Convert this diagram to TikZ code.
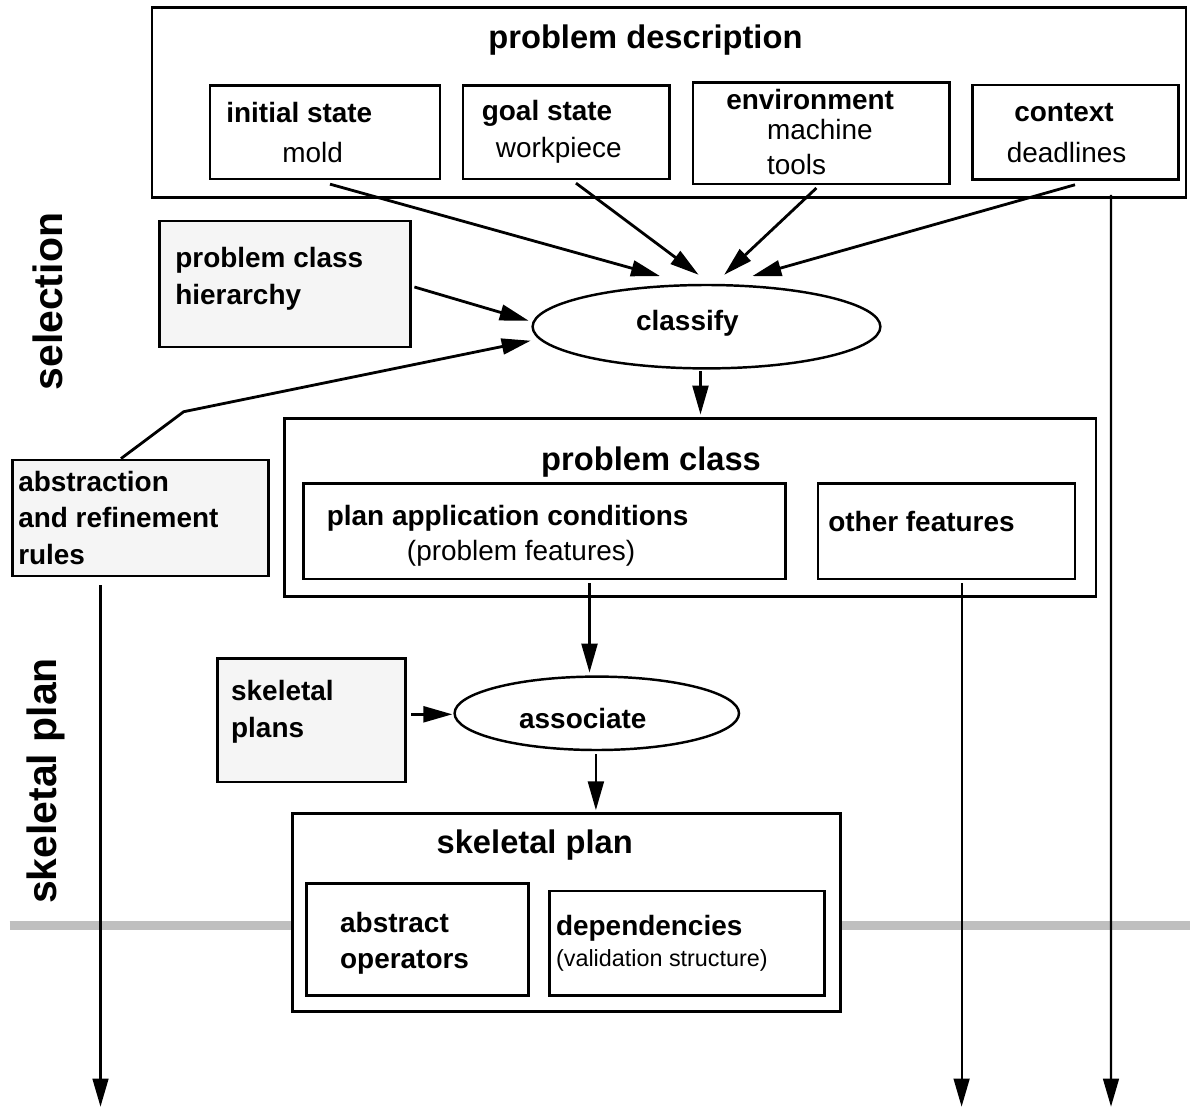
\documentclass[tikz,border=0pt]{standalone}
\usepackage{fontspec}
\setmainfont{Liberation Sans}
\usetikzlibrary{arrows.meta}
\usetikzlibrary{shapes.geometric}
\usetikzlibrary{calc}

\tikzset{
  pbox/.style 2 args={draw, line width=1.6pt, inner sep=0pt,
    minimum width=#1*0.02cm, minimum height=#2*0.02cm},
  store/.style 2 args={pbox={#1}{#2}, fill=black!4},
  task/.style 2 args={draw, ellipse, line width=1.4pt, inner sep=0pt,
    minimum width=#1*0.02cm, minimum height=#2*0.02cm},
  lbl/.style={anchor=west, inner sep=0pt, align=left,
    font=\bfseries\fontsize{15.9}{20.8}\selectfont},
  sub/.style={anchor=west, inner sep=0pt,
    font=\fontsize{15.9}{20.8}\selectfont},
  small/.style={anchor=west, inner sep=0pt,
    font=\fontsize{13.3}{16}\selectfont},
  ttl/.style={anchor=west, inner sep=0pt,
    font=\bfseries\fontsize{18.6}{22}\selectfont},
  side/.style={rotate=90, inner sep=0pt,
    font=\bfseries\fontsize{23.3}{28}\selectfont},
  arr/.style={line width=1.6pt, -{Triangle[length=16.5pt,width=9pt]}},
  flow/.style={line width=1.2pt, -{Triangle[length=16pt,width=9pt]}},
}

\begin{document}
\begin{tikzpicture}[x=0.02cm, y=-0.02cm]
  \useasboundingbox (0,0) rectangle (1190,1108);

  % phase separator
  \draw[line width=5.1pt, black!25] (9.6,925.5) -- (1190,925.5);

  % side labels
  \node[side] (selection) at (47.8,301.7) {selection};
  \node[side] (skelphase) at (46,781) {skeletal plan};

  % problem description
  \node[pbox={1034}{190}] (pd) at (669,102.3) {};
  \node[ttl] (pdtitle) at (488,40) {problem description};
  \node[pbox={230}{93.7}] (init) at (325,132.2) {};
  \node[lbl] (initl) at (226,113) {initial state};
  \node[sub] (initv) at (282,153) {mold};
  \node[pbox={206.6}{93.7}] (goal) at (566.3,132.2) {};
  \node[lbl] (goall) at (481.5,113) {goal state};
  \node[sub] (goalv) at (495.6,150) {workpiece};
  \node[pbox={256.3}{101.3}] (env) at (821.2,133.3) {};
  \node[lbl] (envl) at (726,100) {environment};
  \node[sub] (envv) at (766.7,130) {machine};
  \node[sub] (envw) at (766.7,165) {tools};
  \node[pbox={206.2}{94.3}] (ctx) at (1075.7,132.2) {};
  \node[lbl] (ctxl) at (1014,113) {context};
  \node[sub] (ctxv) at (1006.5,153) {deadlines};

  % selection
  \node[store={251}{126}] (pch) at (285.1,284) {};
  \node[lbl] (pchl) at (175,279) {problem class\\hierarchy};
  \node[task={347.8}{83.4}] (classify) at (706.5,326.7) {};
  \node[lbl] (classifyl) at (635.8,323) {classify};
  \node[store={256}{116}] (abs) at (140.9,518) {};
  \node[lbl] (absl) at (17.9,518) {abstraction\\and refinement\\rules};

  % problem class
  \node[pbox={811.3}{178.4}] (pc) at (690.4,507.5) {};
  \node[ttl] (pctitle) at (540.8,461.7) {problem class};
  \node[pbox={482}{95.7}] (pac) at (544.7,531.2) {};
  \node[lbl] (pacl) at (326.5,518.3) {plan application conditions};
  \node[sub] (pacv) at (406.6,553.3) {(problem features)};
  \node[pbox={257}{95.7}] (other) at (946.5,531.2) {};
  \node[lbl] (otherl) at (828,521.7) {other features};

  % skeletal plan
  \node[store={188}{123.3}] (sp) at (311.8,720.4) {};
  \node[lbl] (spl) at (230.8,711.7) {skeletal\\plans};
  \node[task={284.4}{73.4}] (assoc) at (596.8,713.3) {};
  \node[lbl] (assocl) at (518.8,718.3) {associate};
  \node[pbox={547.3}{198.4}, fill=white] (skp) at (566.5,912.5) {};
  \node[ttl] (skptitle) at (436.3,845) {skeletal plan};
  \node[pbox={222}{112.4}] (ops) at (417.2,939.5) {};
  \node[lbl] (opsl) at (339.8,943.4) {abstract\\operators};
  \node[pbox={275.5}{104.7}] (dep) at (687,943.4) {};
  \node[lbl] (depl) at (555.7,928.3) {dependencies};
  \node[small] (depv) at (555.7,960) {(validation structure)};

  % connectors
  \coordinate (bend) at (183.7,411.7);
  \coordinate (outabs) at (100.5,1106.7);
  \coordinate (outother) at (961.6,1106.7);
  \coordinate (outctx) at (1111,1106.7);

  \draw[arr] ($(init.south)+(5,3.7)$) -- ($(classify.north)+(-46.5,-7.7)$);
  \draw[arr] ($(goal.south)+(9.7,2.7)$) -- ($(classify.north)+(-7.9,-9)$);
  \draw[arr] ($(env.south)+(-4.8,2.7)$) -- ($(classify.north)+(17.7,-9)$);
  \draw[arr] ($(ctx.south)+(-0.7,4)$) -- ($(classify.north)+(45.9,-7.7)$);
  \draw[arr] ($(pch.east)+(2.4,3)$) -- ($(classify.west)+(-2.7,-6)$);
  \draw[arr] ($(abs.north)+(-19.9,0)$) -- (bend) -- ($(classify.west)+(-0.7,14)$);
  \draw[arr] ($(classify.south)+(-6,1.7)$) -- ($(classify.south |- pc.north)+(-6,-2.3)$);
  \draw[arr] ($(pac.south)+(44.8,2.7)$) -- ($(pac.south |- assoc.north)+(44.8,-2.7)$);
  \draw[arr] ($(sp.east)+(3.8,-6.1)$) -- ($(assoc.west)+(-1,1)$);
  \draw[arr] ($(assoc.south)+(-0.9,3)$) -- ($(assoc.south |- skp.north)+(-0.9,-1.6)$);

  \draw[flow] ($(abs.south)+(-40.4,8)$) -- (outabs);
  \draw[flow] ($(other.south)+(15.1,2.7)$) -- (outother);
  \draw[flow] ($(ctx.south)+(35.3,14)$) -- (outctx);
\end{tikzpicture}
\end{document}
